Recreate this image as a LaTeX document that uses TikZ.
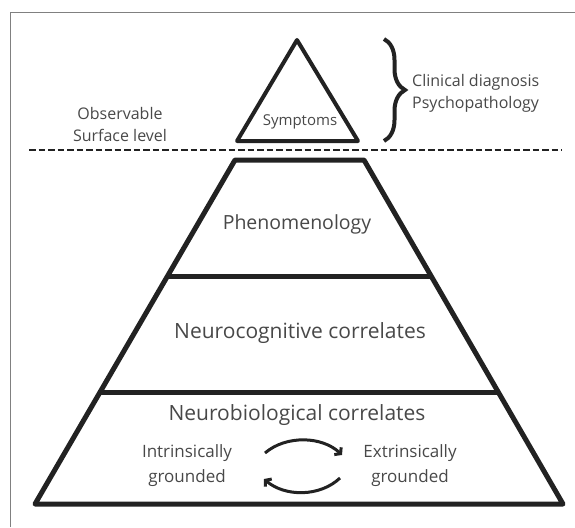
\documentclass[tikz,border=0pt]{standalone}
\usepackage{fontspec}
\setmainfont{Open Sans}
\usetikzlibrary{arrows.meta,decorations.pathreplacing}
\definecolor{inkline}{HTML}{222222}
\definecolor{inktext}{HTML}{484848}
\begin{document}
\begin{tikzpicture}[x=1pt,y=-1pt,
  level/.style={line width=5pt,color=inkline,line join=round},
  txt/.style={text=inktext,inner sep=0pt,align=center},
  big/.style={txt,font=\fontsize{21}{25}\selectfont},
  mid/.style={txt,font=\fontsize{17}{25}\selectfont},
  small/.style={txt,font=\fontsize{16}{22}\selectfont},
  swap/.style={line width=3pt,color=inkline,-{Straight Barb[length=4pt,width=10pt]}}]
\useasboundingbox (0,0) rectangle (575,527);

% frame
\draw[color=gray,line width=1pt] (10.5,527) -- (10.5,13) -- (575,13);

% \draw top triangle
\draw[line width=4pt,color=inkline,line join=round]
  (297,40) -- (358,141) -- (237,141) -- cycle;
\node[txt,font=\fontsize{15}{20}\selectfont] (symptoms) at (300,122) {Symptoms};

% \draw surface line
\draw[dashed,line width=2.5pt,color=inkline,dash pattern=on 6.5pt off 3pt]
  (29,150) -- (562,150);

% \draw pyramid
\draw[level] (235,160) -- (364,160) -- (563,504) -- (35,504) -- cycle;
\draw[level] (167.6,276) -- (431.1,276);
\draw[level] (100.1,392) -- (498.1,392);

% labels
\node[small] (observable) at (120,124) {Observable\\Surface level};
\node[small,align=left,anchor=west] (clinical) at (412,93)
  {Clinical diagnosis\\Psychopathology};
\node[big,font=\fontsize{19.5}{25}\selectfont] (phenomenology) at (297,224) {Phenomenology};
\node[big] (neurocog) at (300,333) {Neurocognitive correlates};
\node[big] (neurobio) at (297,415) {Neurobiological correlates};
\node[mid] (intrinsic) at (187,466) {Intrinsically\\grounded};
\node[mid] (extrinsic) at (410,466) {Extrinsically\\grounded};

% \draw brace
\draw[decorate,decoration={brace,amplitude=21pt},line width=4pt,color=inkline]
  (384,39) -- (384,141);

% \draw arrows
\coordinate (topin) at (265,453);
\coordinate (topout) at (342,455);
\coordinate (botin) at (340,478);
\coordinate (botout) at (264,479);
\draw[swap] (topin) .. controls (286,435) and (322,436) .. (topout);
\draw[swap] (botin) .. controls (320,497) and (285,497) .. (botout);

\end{tikzpicture}
\end{document}
